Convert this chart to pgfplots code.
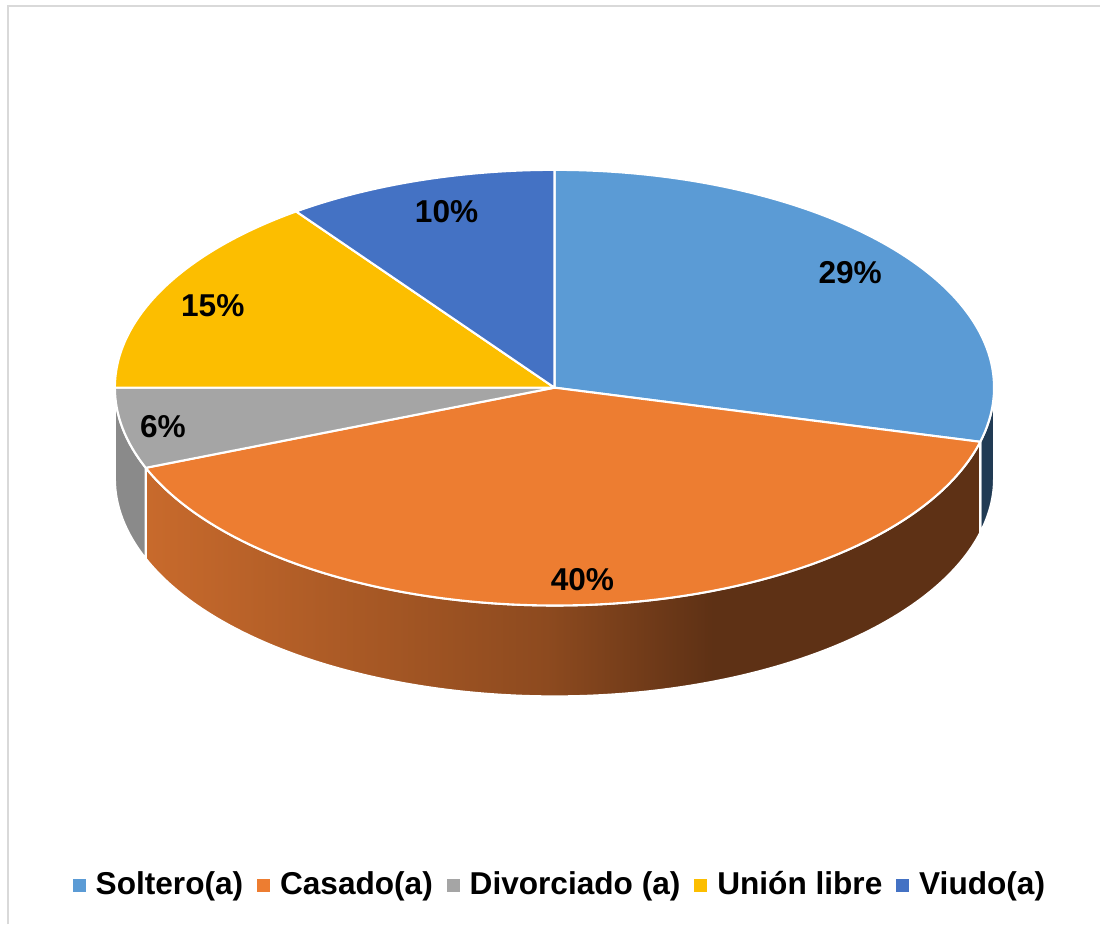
\documentclass[border=0pt]{standalone}
\usepackage{fontspec}
\setmainfont{Liberation Sans}
\usepackage{pgfplots}
\usepackage{pgfplotstable}
\pgfplotsset{compat=1.18}

\definecolor{soltero}{RGB}{91,155,213}
\definecolor{casado}{RGB}{237,125,49}
\definecolor{divorciado}{RGB}{165,165,165}
\definecolor{union}{RGB}{252,190,0}
\definecolor{viudo}{RGB}{68,114,196}
\definecolor{ladoazul}{RGB}{33,59,84}
\definecolor{ladogris}{RGB}{138,138,138}
\definecolor{naranjaA}{RGB}{200,106,44}
\definecolor{naranjaB}{RGB}{141,74,31}
\definecolor{naranjaC}{RGB}{94,49,21}
\definecolor{marco}{RGB}{217,217,217}

\pgfdeclarehorizontalshading{ladonaranja}{100bp}{color(0bp)=(naranjaA); color(25bp)=(naranjaA); color(49bp)=(naranjaB); color(59bp)=(naranjaC); color(100bp)=(naranjaC)}

\pgfplotstableread[col sep=comma]{
estado,valor
Soltero(a),29
Casado(a),40
Divorciado (a),6
Unión libre,15
Viudo(a),10
}\datos

% cuna superior: angulo inicial, angulo final, color
\newcommand\cuna[3]{%
  \fill[#3,draw=white,line width=0.6pt,line join=round] (C) -- ([shift={(#1:4.40cm and 2.18cm)}]C)
    arc[start angle=#1,end angle=#2,x radius=4.40cm,y radius=2.18cm] -- cycle;}
% cara lateral: angulo inicial, angulo final, relleno
\newcommand\lado[3]{%
  \path[#3,draw=white,line width=0.6pt,line join=round] ([shift={(#1:4.40cm and 2.18cm)}]C)
    arc[start angle=#1,end angle=#2,x radius=4.40cm,y radius=2.18cm] -- ++(0,-0.91cm)
    arc[start angle=#2,end angle=#1,x radius=4.40cm,y radius=2.18cm] -- cycle;}

\begin{document}
\begin{tikzpicture}
\pgfplotstablegetelem{0}{valor}\of\datos\let\vA\pgfplotsretval
\pgfplotstablegetelem{1}{valor}\of\datos\let\vB\pgfplotsretval
\pgfplotstablegetelem{2}{valor}\of\datos\let\vC\pgfplotsretval
\pgfplotstablegetelem{3}{valor}\of\datos\let\vD\pgfplotsretval
\pgfplotstablegetelem{4}{valor}\of\datos\let\vE\pgfplotsretval
\pgfmathsetmacro\aA{90}
\pgfmathsetmacro\aB{\aA-3.6*\vA}
\pgfmathsetmacro\aC{\aB-3.6*\vB}
\pgfmathsetmacro\aD{\aC-3.6*\vC}
\pgfmathsetmacro\aE{\aD-3.6*\vD}
\pgfmathsetmacro\aF{\aE-3.6*\vE}
\begin{axis}[
    width=11.01cm,height=9.25cm,scale only axis,
    xmin=0,xmax=1101,ymin=0,ymax=925,y dir=reverse,
    hide axis,clip=false,
    legend columns=-1,
    legend style={at={(0.5104,0.042)},anchor=center,draw=none,fill=none,
      font=\bfseries\fontsize{9pt}{10pt}\selectfont,
      nodes={inner sep=0.05cm},
      /tikz/every odd column/.append style={column sep=0.05cm},
      /tikz/every even column/.append style={column sep=0.09cm}},
  ]
  \path (axis cs:0,0) rectangle (axis cs:1101,925);
  \draw[marco,line width=0.6pt] (axis cs:8,925) -- (axis cs:8,6) -- (axis cs:1101,6);
  \coordinate (C) at (axis cs:555,388);
  % caras laterales visibles (mitad delantera)
  \lado{0}{\aB}{fill=ladoazul}
  \lado{\aB}{\aC}{shade,shading=ladonaranja}
  \lado{\aC}{-180}{fill=ladogris}
  % caras superiores
  \cuna{\aA}{\aB}{soltero}
  \cuna{\aB}{\aC}{casado}
  \cuna{\aC}{\aD}{divorciado}
  \cuna{\aD}{\aE}{union}
  \cuna{\aE}{\aF}{viudo}
  % etiquetas
  \begin{scope}[every node/.style={font=\bfseries\fontsize{9pt}{10pt}\selectfont}]
    \node at (axis cs:851,273) {\vA\%};
    \node at (axis cs:583,580) {\vB\%};
    \node at (axis cs:163,427) {\vC\%};
    \node at (axis cs:213,306) {\vD\%};
    \node at (axis cs:447,212) {\vE\%};
  \end{scope}
  \addlegendimage{legend image code/.code={\fill[soltero] (0cm,-0.057cm) rectangle (0.115cm,0.057cm);}}
  \addlegendimage{legend image code/.code={\fill[casado] (0cm,-0.057cm) rectangle (0.115cm,0.057cm);}}
  \addlegendimage{legend image code/.code={\fill[divorciado] (0cm,-0.057cm) rectangle (0.115cm,0.057cm);}}
  \addlegendimage{legend image code/.code={\fill[union] (0cm,-0.057cm) rectangle (0.115cm,0.057cm);}}
  \addlegendimage{legend image code/.code={\fill[viudo] (0cm,-0.057cm) rectangle (0.115cm,0.057cm);}}
  \legend{Soltero(a),Casado(a),Divorciado (a),Unión libre,Viudo(a)}
\end{axis}
\end{tikzpicture}
\end{document}
